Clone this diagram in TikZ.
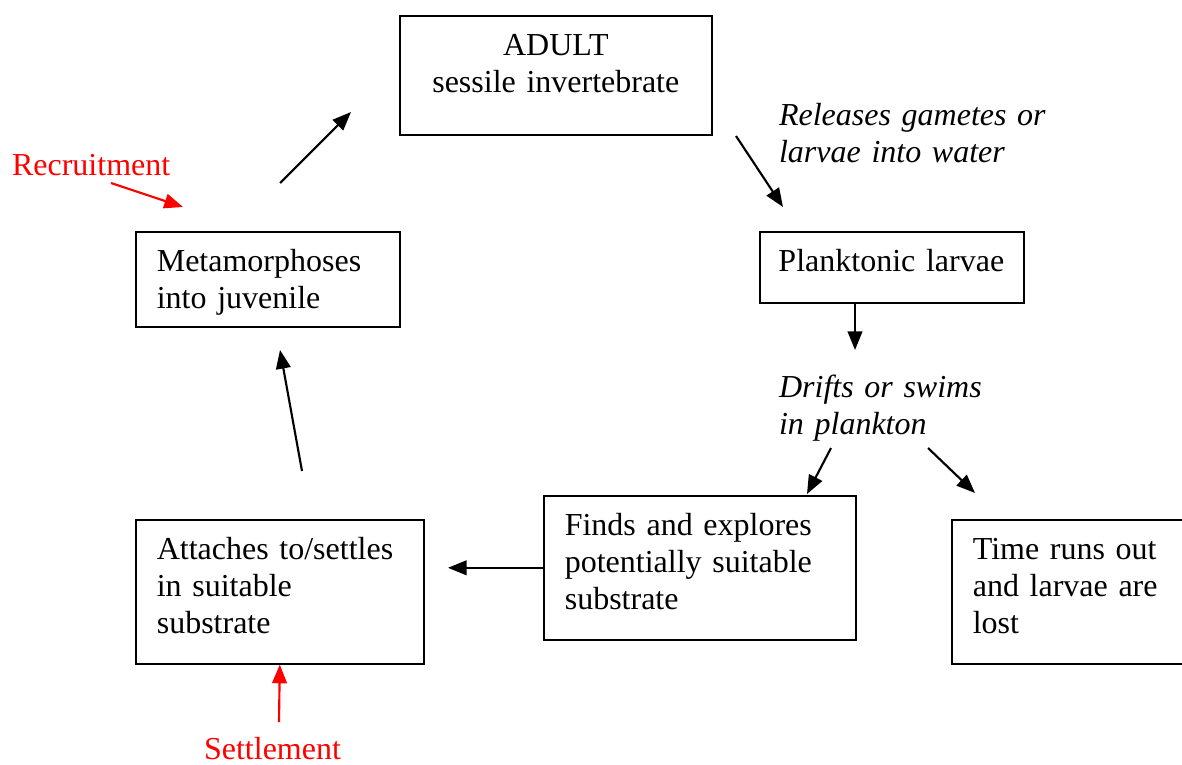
\documentclass[tikz,border=0pt]{standalone}
\usepackage{fontspec}
\setmainfont{Liberation Serif}
\usetikzlibrary{arrows.meta}

\begin{document}
\begin{tikzpicture}[x=0.375pt, y=-0.375pt, >={Triangle[length=7pt, width=5.5pt]}, thick,
    font=\fontsize{12}{13.9}\selectfont,
    box/.style={draw, semithick, anchor=north west, align=left, inner xsep=7.875pt, inner ysep=5pt, text height=10pt},
    note/.style={font=\fontsize{12}{14.2}\selectfont\itshape, align=left, text width=120pt, inner sep=0pt, anchor=base west},
    red note/.style={text=red, inner sep=0pt, anchor=base west}]
  \useasboundingbox (0,0) rectangle (1182,764);
  \clip (0,0) rectangle (1182,764);
  % boxes
  \node[box, align=center, text width=101.25pt, text depth=24.6pt] (adult) at (399,15) {ADULT\\sessile invertebrate};
  \node[box, inner xsep=7pt, text width=85pt, text depth=6.6pt] (plank) at (759,231) {Planktonic larvae};
  \node[box, text width=83.25pt, text depth=15.6pt] (meta) at (135,231) {Metamorphoses\\into juvenile};
  \node[box, text width=92.25pt, text depth=34pt] (attach) at (135,519) {Attaches to/settles\\in suitable\\substrate};
  \node[box, text width=101.25pt, text depth=34pt] (finds) at (543,495) {Finds and explores\\potentially suitable\\substrate};
  \node[box, text width=92.25pt, text depth=34pt] (lost) at (951,519) {Time runs out\\and larvae are\\lost};
  % labels
  \node[note] (release) at (778,125) {Releases gametes or\\larvae into water};
  \node[note] (drift) at (778,397) {Drifts or swims\\in plankton};
  \node[red note] (recruit) at (11,175) {Recruitment};
  \node[red note] (settle) at (203,759) {Settlement};
  % arrow ends
  \coordinate (metaout) at (280,183);
  \coordinate (adultin) at (351,112);
  \coordinate (adultout) at (736,136);
  \coordinate (plankin) at (783,207);
  \coordinate (plankout) at (855,302);
  \coordinate (driftin) at (855,350);
  \coordinate (driftleft) at (831,448);
  \coordinate (findsin) at (807,494);
  \coordinate (driftright) at (928,448);
  \coordinate (lostin) at (975,493);
  \path (finds.west) ++(-95,0) coordinate (attachin);
  \coordinate (attachout) at (302,471);
  \coordinate (metain) at (280,350);
  \coordinate (recruitout) at (111,183);
  \coordinate (recruitin) at (183,207);
  \coordinate (settleout) at (279,722);
  % cycle
  \draw[->] (metaout) -- (adultin);
  \draw[->] (adultout) -- (plankin);
  \draw[->] (plankout) -- (driftin);
  \draw[->] (driftleft) -- (findsin);
  \draw[->] (driftright) -- (lostin);
  \draw[->] (finds.west) -- (attachin);
  \draw[->] (attachout) -- (metain);
  \draw[->, red] (recruitout) -- (recruitin);
  \draw[->, red] (settleout) -- (attach.south);
\end{tikzpicture}
\end{document}
